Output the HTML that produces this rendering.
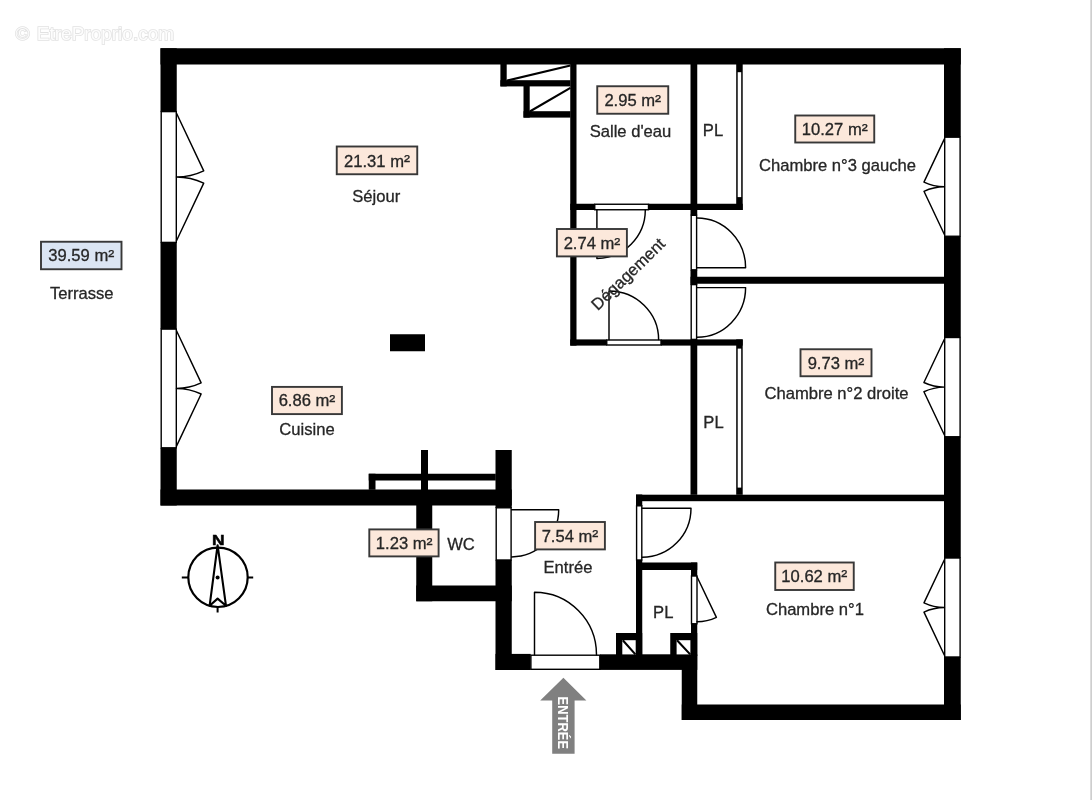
<!DOCTYPE html>
<html lang="fr">
<head>
<meta charset="utf-8">
<title>Plan de l'appartement</title>
<style>
  html, body { margin: 0; padding: 0; background: #ffffff; }
  body { width: 1092px; height: 800px; overflow: hidden; position: relative; }
  svg { display: block; position: absolute; left: 0; top: 0; filter: blur(0.38px); }
  .edge { position: absolute; top: 0; width: 1px; height: 800px; }
  text { font-family: "Liberation Sans", "DejaVu Sans", sans-serif; font-size: 16.6px; fill: #262626; }
  #labels text { stroke: #262626; stroke-width: 0.3px; }
  .w { fill: #000; }
  .f { fill: #fff; stroke: #000; stroke-width: 1.4; }
  .l { fill: none; stroke: #000; stroke-width: 1.45; stroke-linejoin: round; stroke-linecap: round; }
  .box { fill: #fce8db; stroke: #383838; stroke-width: 1.9; }
  .boxb { fill: #dbe5f3; stroke: #383838; stroke-width: 1.9; }
  .lab { text-anchor: middle; }
</style>
</head>
<body>
<svg width="1092" height="800" viewBox="0 0 1092 800">
  <rect x="0" y="0" width="1092" height="800" fill="#ffffff"/>
  

  <!-- watermark -->
  <g id="watermark" style="will-change:opacity">
    <text y="39.6" style="font-size:19px;fill:#fdfdfd;stroke:#e2e2e2;stroke-width:1.6;paint-order:stroke"><tspan x="15.5">© </tspan><tspan x="36.8">EtreProprio.com</tspan></text>
  </g>

  <!-- OUTER WALLS -->
  <g id="walls" class="w">
    <rect x="160.5" y="48.25" width="800.25" height="16.25"/>
    <rect x="160.5" y="48.25" width="16.25" height="63.5"/>
    <rect x="160.5" y="242.3" width="16.25" height="86.9"/>
    <rect x="160.5" y="448" width="16.25" height="57.5"/>
    <rect x="160.5" y="489.5" width="351.25" height="16"/>
    <rect x="944" y="48.25" width="16.75" height="88.75"/>
    <rect x="944" y="236.25" width="16.75" height="101.25"/>
    <rect x="944" y="436.75" width="16.75" height="121.25"/>
    <rect x="944" y="657" width="16.75" height="63"/>
    <rect x="681.75" y="704.5" width="279" height="15.5"/>
    <rect x="681.75" y="655.5" width="15.5" height="64.5"/>
    <rect x="600" y="654.3" width="97.25" height="15.6"/>
    <rect x="495.5" y="653.9" width="35.2" height="16.1"/>
    <rect x="495.5" y="450" width="16.25" height="58"/>
    <rect x="495.5" y="559.8" width="16.25" height="110.2"/>
    <rect x="416.25" y="505" width="16" height="96.25"/>
    <rect x="416.25" y="585.5" width="95.5" height="15.75"/>
  </g>

  <!-- INNER WALLS -->
  <g id="partitions" class="w">
    <rect x="570.25" y="64" width="6.25" height="281.6"/>
    <rect x="690.5" y="64" width="6.75" height="151.5"/>
    <rect x="690.5" y="270" width="6.75" height="15"/>
    <rect x="690.5" y="339.4" width="6.75" height="155.4"/>
    <rect x="570.25" y="203.75" width="24.5" height="6.25"/>
    <rect x="648.5" y="203.75" width="94.2" height="6.25"/>
    <rect x="570.25" y="339.4" width="36.5" height="6.2"/>
    <rect x="661" y="339.4" width="81.7" height="6.2"/>
    <rect x="690.5" y="276.75" width="254" height="7"/>
    <rect x="636" y="494.7" width="308.5" height="6.5"/>
    <rect x="636" y="494.5" width="6.25" height="11.75"/>
    <rect x="636" y="559.5" width="6.25" height="96.5"/>
    <rect x="636" y="562.5" width="61.25" height="7.5"/>
    <rect x="691" y="562.5" width="6.25" height="13.5"/>
    <rect x="691" y="623.75" width="6.25" height="32"/>
    <!-- closet sliding doors (black ends) -->
    <rect x="736.2" y="64" width="6.5" height="146"/>
    <rect x="736.2" y="339.4" width="6.5" height="155.4"/>
    <!-- pillar -->
    <rect x="390" y="334.25" width="35" height="17"/>
    <!-- kitchen bars -->
    <rect x="421" y="450" width="7" height="40"/>
    <rect x="368.75" y="473.75" width="127" height="6.75"/>
    <rect x="368.75" y="473.75" width="6.75" height="16"/>
    <!-- gaine top -->
    <rect x="500.4" y="64" width="6.3" height="22.4"/>
    <rect x="500.4" y="80.2" width="70" height="6.2"/>
    <rect x="523.5" y="86" width="6.2" height="31.6"/>
    <rect x="523.5" y="111.2" width="47" height="6.4"/>
    <!-- small ducts bottom -->
    <rect x="616" y="633" width="26.25" height="23"/>
    <rect x="670.25" y="633" width="27" height="23"/>
  </g>

  <!-- closet door white strips -->
  <rect x="737.7" y="72.2" width="3.5" height="124.9" fill="#fff"/>
  <rect x="737.7" y="348.6" width="3.5" height="139" fill="#fff"/>
  <!-- duct interiors -->
  <rect x="622.3" y="640.2" width="13.4" height="14.2" fill="#fff"/>
  <rect x="676.6" y="640.2" width="13.8" height="14.2" fill="#fff"/>
  <path class="l" d="M622.8 640.2 L635.4 654.4 M677 640.2 L690.2 654.4" style="stroke-width:2.1;stroke-linecap:butt"/>
  <path class="l" d="M507 80.6 L570.4 65.4 M529.8 111.5 L570.4 87.8" style="stroke-width:2.1;stroke-linecap:butt"/>

  <!-- WINDOWS (frames) -->
  <g id="frames" class="f">
    <rect x="161.2" y="111.6" width="15.1" height="130.8"/>
    <rect x="161.2" y="329.1" width="15.1" height="118.7"/>
    <rect x="944.7" y="137.2" width="15.4" height="99.05"/>
    <rect x="944.7" y="337.5" width="15.4" height="99.25"/>
    <rect x="944.7" y="558" width="15.4" height="99"/>
    <!-- doors frames -->
    <rect x="594.75" y="204.25" width="53.75" height="5.5"/>
    <rect x="606.75" y="340" width="54.25" height="5"/>
    <rect x="691.2" y="215.3" width="5.4" height="54.5"/>
    <rect x="691.2" y="284.6" width="5.4" height="54.8"/>
    <rect x="636.6" y="505.8" width="5.2" height="54.2"/>
    <rect x="691.5" y="576" width="5.5" height="47.75"/>
    <rect x="496.2" y="507.8" width="14.9" height="52.2"/>
    <rect x="530.9" y="655.2" width="68.9" height="14.1"/>
  </g>

  <!-- window leaves & door arcs -->
  <g id="swings" class="l">
    <!-- windows leaves -->
    <path d="M176.50 113.30 L203.72 170.89 A63.70 63.70 0 0 1 176.50 177.00 A63.70 63.70 0 0 1 203.72 183.11 L176.50 240.70"/>
    <path d="M176.50 330.80 L201.14 382.92 A57.65 57.65 0 0 1 176.50 388.45 A57.65 57.65 0 0 1 201.14 393.98 L176.50 446.10"/>
    <path d="M944.40 138.90 L923.96 182.14 A47.83 47.83 0 0 0 944.40 186.72 A47.83 47.83 0 0 0 923.96 191.31 L944.40 234.55"/>
    <path d="M944.40 339.20 L923.92 382.53 A47.93 47.93 0 0 0 944.40 387.12 A47.93 47.93 0 0 0 923.92 391.72 L944.40 435.05"/>
    <path d="M944.40 559.70 L923.97 602.92 A47.80 47.80 0 0 0 944.40 607.50 A47.80 47.80 0 0 0 923.97 612.08 L944.40 655.30"/>
    <!-- salle d'eau door -->
    <path d="M596.9 210 L596.9 258.4 A48.4 48.4 0 0 0 645.3 210"/>
    <!-- degagement bottom door -->
    <path d="M609 339.6 L609 291 A49.6 48.6 0 0 1 658.6 339.6"/>
    <!-- chambre 3 door -->
    <path d="M697 267.7 L745.6 267.7 A48.6 49.7 0 0 0 697 218"/>
    <!-- chambre 2 door -->
    <path d="M697 287.6 L745.6 287.6 A48.6 49.7 0 0 1 697 337.3"/>
    <!-- chambre 1 door -->
    <path d="M642.25 508.2 L691 508.2 A49 49 0 0 1 642.25 557.2"/>
    <!-- WC door -->
    <path d="M511.6 509.8 L558.7 509.8 A47.1 47.1 0 0 1 511.6 556.9"/>
    <!-- PL closet door -->
    <path d="M697 576.8 L716.4 617.4 A45 45 0 0 1 697 621.8"/>
    <!-- entrance door -->
    <path d="M534.5 654.8 L534.5 592.3 A62 62.5 0 0 1 596.5 654.8"/>
  </g>

  <!-- compass -->
  <g id="compass" fill="none" stroke="#000" stroke-width="2.2">
    <circle cx="218" cy="577.3" r="29.7"/>
    <path d="M181.8 577.5 H188 M248 577.5 H253.2 M217.6 607 V612.6" stroke-width="2"/>
    <path d="M217.6 545.2 L209.6 605.8 L217.6 598.6 L226 605.8 Z" stroke-linejoin="round" stroke-width="2.1"/>
    <circle cx="217.6" cy="577.5" r="2" fill="#000" stroke="none"/>
  </g>
  <g style="will-change:opacity"><text x="218.2" y="545" class="lab" style="font-size:15px;font-weight:bold;fill:#000;stroke:#000;stroke-width:0.5" textLength="12.6" lengthAdjust="spacingAndGlyphs">N</text></g>

  <!-- entrance arrow -->
  <g id="arrow" style="will-change:opacity">
    <path d="M563.4 677.8 L586.4 700.6 L574.6 700.6 L574.6 753.8 L552.2 753.8 L552.2 700.6 L540.2 700.6 Z" fill="#808080"/>
    <text transform="translate(557.5 696.6) rotate(90)" style="font-size:15.2px;font-weight:bold;fill:#fff" textLength="52.4" lengthAdjust="spacingAndGlyphs">ENTRÉE</text>
  </g>

  <!-- LABEL BOXES -->
  <g id="labels" style="will-change:opacity">
    <rect class="boxb" x="41" y="241.75" width="80.5" height="27.5"/>
    <text class="lab" x="81.25" y="261">39.59 m<tspan dy="0.6" style="font-size:18px">²</tspan></text>
    <text class="lab" x="81.8" y="299.2">Terrasse</text>

    <rect class="box" x="336.75" y="146.5" width="80.5" height="27.75"/>
    <text class="lab" x="377" y="166.5">21.31 m<tspan dy="0.6" style="font-size:18px">²</tspan></text>
    <text class="lab" x="376.25" y="202">Séjour</text>

    <rect class="box" x="272" y="386.9" width="69.9" height="27.2"/>
    <text class="lab" x="307" y="406.2">6.86 m<tspan dy="0.6" style="font-size:18px">²</tspan></text>
    <text class="lab" x="307" y="434.5">Cuisine</text>

    <rect class="box" x="597.25" y="86.25" width="71" height="27.5"/>
    <text class="lab" x="632.75" y="106">2.95 m<tspan dy="0.6" style="font-size:18px">²</tspan></text>
    <text class="lab" x="630.5" y="137">Salle d'eau</text>

    <text class="lab" x="713" y="136">PL</text>
    <text class="lab" x="713.5" y="427.5">PL</text>
    <text class="lab" x="663.25" y="617.5">PL</text>

    <rect class="box" x="795.25" y="115.5" width="79" height="27"/>
    <text class="lab" x="834.75" y="135">10.27 m<tspan dy="0.6" style="font-size:18px">²</tspan></text>
    <text class="lab" x="837.5" y="171">Chambre n°3 gauche</text>

    <rect class="box" x="556.9" y="229" width="70" height="27.4"/>
    <text class="lab" x="592" y="249">2.74 m<tspan dy="0.6" style="font-size:18px">²</tspan></text>
    <text class="lab" transform="translate(628.2 274.2) rotate(-44)" x="0" y="5.5">Dégagement</text>

    <rect class="box" x="800.5" y="349.25" width="71" height="27"/>
    <text class="lab" x="836" y="369">9.73 m<tspan dy="0.6" style="font-size:18px">²</tspan></text>
    <text class="lab" x="836.5" y="398.5">Chambre n°2 droite</text>

    <rect class="box" x="369.3" y="529.4" width="69.3" height="27"/>
    <text class="lab" x="404.2" y="549">1.23 m<tspan dy="0.6" style="font-size:18px">²</tspan></text>
    <text class="lab" x="461" y="550.4">WC</text>

    <rect class="box" x="535.1" y="522" width="69.8" height="27.4"/>
    <text class="lab" x="570" y="541.6">7.54 m<tspan dy="0.6" style="font-size:18px">²</tspan></text>
    <text class="lab" x="568" y="572.5">Entrée</text>

    <rect class="box" x="775.25" y="562.5" width="78.5" height="27.5"/>
    <text class="lab" x="814.3" y="581.8">10.62 m<tspan dy="0.6" style="font-size:18px">²</tspan></text>
    <text class="lab" x="814.9" y="614.8">Chambre n°1</text>
  </g>
</svg>
<div class="edge" style="left:1090px;background:#dcdcdc"></div>
<div class="edge" style="left:1091px;background:#cecece"></div>
</body>
</html>
